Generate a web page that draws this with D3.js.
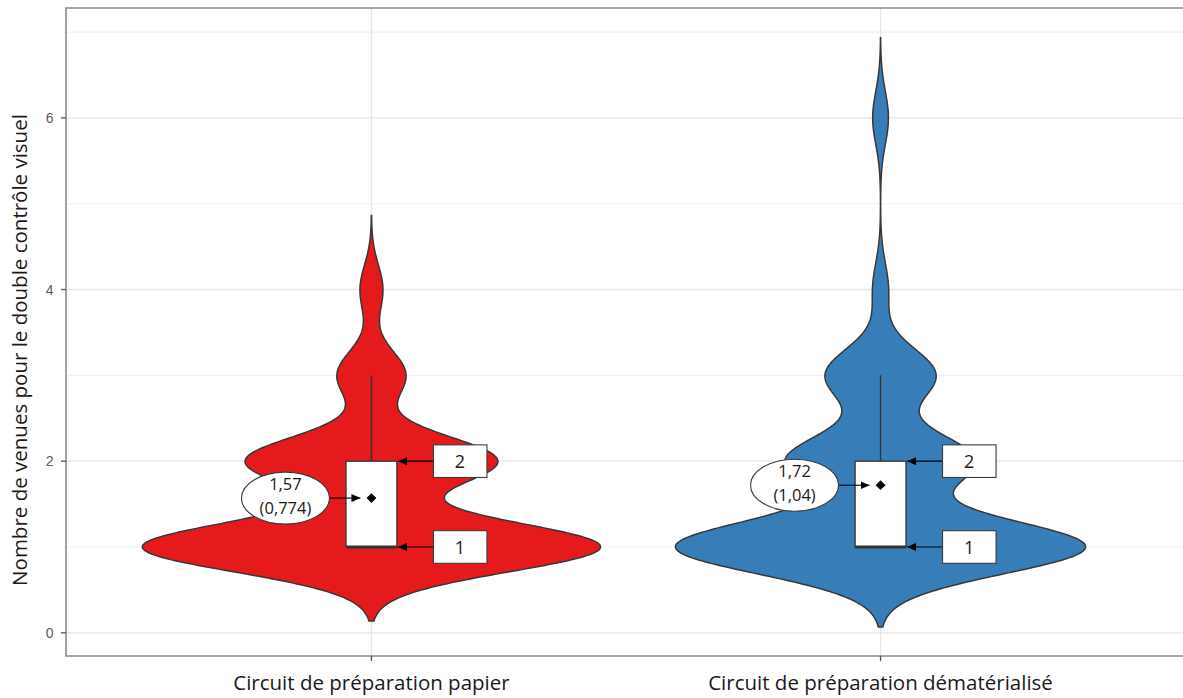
<!DOCTYPE html>
<html>
<head>
<meta charset="utf-8">
<script src="https://cdn.jsdelivr.net/npm/d3@7"></script>
<style>
  html, body { margin: 0; padding: 0; background: #ffffff; }
  svg { display: block; }
</style>
</head>
<body>
<svg id="chart" width="1183" height="698"></svg>
<script>
// Groups compared on the x axis
const categories = ["Circuit de préparation papier", "Circuit de préparation dématérialisé"];
// Possible numbers of visits and how many patients had each, per group
const visitValues = [1, 2, 3, 4, 5, 6];
const paperCounts = [40, 22, 6, 2, 0, 0];
const digitalCounts = [26, 12, 7, 1, 0, 1];
// Box-plot summary per group
const q1Values = [1, 1];
const medianValues = [1, 1];
const q3Values = [2, 2];
const whiskerLow = [1, 1];
const whiskerHigh = [3, 3];
// Mean (sd) per group, as printed in the callouts
const meanValues = [1.57, 1.72];
const meanLabels = ["1,57", "1,72"];
const sdLabels = ["(0,774)", "(1,04)"];
// Y axis ticks
const yTicks = [0, 2, 4, 6];
const yMinorTicks = [1, 3, 5, 7];
const fillColors = ["#E41A1C", "#377EB8"];

const svg = d3.select("#chart");
const panel = { left: 66, top: 8, right: 1186, bottom: 656 };

const x = d3.scalePoint().domain(categories).range([panel.left, panel.right]).padding(0.6);
const step = x.step();
const y = d3.scaleLinear().domain([-0.27, 7.28]).range([panel.bottom, panel.top]);

// Gridlines
const grid = svg.append("g");
grid.selectAll("line.minor").data(yMinorTicks).join("line")
  .attr("x1", panel.left).attr("x2", panel.right)
  .attr("y1", d => y(d)).attr("y2", d => y(d))
  .attr("stroke", "#f2f2f2").attr("stroke-width", 1.2);
grid.selectAll("line.major").data(yTicks).join("line")
  .attr("x1", panel.left).attr("x2", panel.right)
  .attr("y1", d => y(d)).attr("y2", d => y(d))
  .attr("stroke", "#e6e6e6").attr("stroke-width", 1.4);
grid.selectAll("line.vert").data(categories).join("line")
  .attr("x1", d => x(d)).attr("x2", d => x(d))
  .attr("y1", panel.top).attr("y2", panel.bottom)
  .attr("stroke", "#e6e6e6").attr("stroke-width", 1.4);

// Gaussian kernel density, bandwidth by Silverman's rule (nrd0)
function expand(counts) {
  const out = [];
  counts.forEach((c, i) => { for (let k = 0; k < c; k++) out.push(visitValues[i]); });
  return out;
}
function nrd0(sample) {
  const s = d3.deviation(sample);
  const iqr = d3.quantile(sample, 0.75) - d3.quantile(sample, 0.25);
  const lo = Math.min(s, iqr / 1.34);
  return 0.9 * lo * Math.pow(sample.length, -0.2);
}
function kde(counts) {
  const sample = expand(counts);
  const n = sample.length;
  const bw = nrd0(sample);
  const lo = d3.min(sample) - 3 * bw, hi = d3.max(sample) + 3 * bw;
  const pts = d3.range(512).map(i => lo + (hi - lo) * i / 511);
  return pts.map(v => {
    let s = 0;
    counts.forEach((c, i) => {
      const u = (v - visitValues[i]) / bw;
      s += c * Math.exp(-0.5 * u * u);
    });
    return { v, d: s / (n * bw * Math.sqrt(2 * Math.PI)) };
  });
}

const densities = [kde(paperCounts), kde(digitalCounts)];
const maxDensity = d3.max(densities, ds => d3.max(ds, p => p.d));
const widthScale = d3.scaleLinear().domain([0, maxDensity]).range([0, 0.45 * step]);

// Violins
densities.forEach((ds, gi) => {
  const cx = x(categories[gi]);
  const area = d3.area()
    .y(p => y(p.v))
    .x0(p => cx - widthScale(p.d))
    .x1(p => cx + widthScale(p.d));
  svg.append("path").datum(ds)
    .attr("d", area)
    .attr("fill", fillColors[gi])
    .attr("stroke", "#383838")
    .attr("stroke-width", 1.5);
});

// Box plots
const boxHalf = 0.05 * step;
categories.forEach((c, gi) => {
  const cx = x(c);
  const g = svg.append("g");
  g.append("line")
    .attr("x1", cx).attr("x2", cx)
    .attr("y1", y(q3Values[gi])).attr("y2", y(whiskerHigh[gi]))
    .attr("stroke", "#333333").attr("stroke-width", 1.4);
  g.append("line")
    .attr("x1", cx).attr("x2", cx)
    .attr("y1", y(q1Values[gi])).attr("y2", y(whiskerLow[gi]))
    .attr("stroke", "#333333").attr("stroke-width", 1.4);
  g.append("rect")
    .attr("x", cx - boxHalf).attr("width", 2 * boxHalf)
    .attr("y", y(q3Values[gi])).attr("height", y(q1Values[gi]) - y(q3Values[gi]))
    .attr("fill", "#ffffff").attr("stroke", "#3a3a3a").attr("stroke-width", 1.4);
  g.append("line")
    .attr("x1", cx - boxHalf).attr("x2", cx + boxHalf)
    .attr("y1", y(medianValues[gi])).attr("y2", y(medianValues[gi]))
    .attr("stroke", "#333333").attr("stroke-width", 2.8);
  g.append("path")
    .attr("d", d3.symbol(d3.symbolSquare, 48)())
    .attr("transform", `translate(${cx},${y(meanValues[gi])}) rotate(45)`)
    .attr("fill", "#000000");
});

// Arrowhead marker for the callouts
svg.append("defs").append("marker")
  .attr("id", "arrowhead")
  .attr("markerUnits", "userSpaceOnUse")
  .attr("viewBox", "0 0 9 8")
  .attr("refX", 9).attr("refY", 4)
  .attr("markerWidth", 9).attr("markerHeight", 8)
  .attr("orient", "auto")
  .append("path").attr("d", "M0,0 L9,4 L0,8 Z").attr("fill", "#000000");

const calloutFont = "'Open Sans', 'Noto Sans', sans-serif";

categories.forEach((c, gi) => {
  const cx = x(c);
  const g = svg.append("g");
  // Mean (sd) ellipse with arrow to the diamond
  const ey = y(meanValues[gi]);
  const ex = cx - 86;
  g.append("line")
    .attr("x1", ex + 44).attr("x2", cx - 11)
    .attr("y1", ey).attr("y2", ey)
    .attr("stroke", "#000000").attr("stroke-width", 1.1)
    .attr("marker-end", "url(#arrowhead)");
  g.append("ellipse")
    .attr("cx", ex).attr("cy", ey).attr("rx", 44).attr("ry", 26)
    .attr("fill", "#ffffff").attr("stroke", "#3c3c3c").attr("stroke-width", 1.1);
  g.append("text").attr("x", ex).attr("y", ey - 7.8)
    .attr("text-anchor", "middle")
    .attr("font-family", calloutFont).attr("font-size", 16.5).attr("fill", "#1a1a1a")
    .text(meanLabels[gi]);
  g.append("text").attr("x", ex).attr("y", ey + 15.5)
    .attr("text-anchor", "middle")
    .attr("font-family", calloutFont).attr("font-size", 16.5).attr("fill", "#1a1a1a")
    .text(sdLabels[gi]);

  // Labelled boxes pointing to Q3 and the median
  const marks = [
    { v: q3Values[gi], label: "2" },
    { v: medianValues[gi], label: "1" }
  ];
  marks.forEach(m => {
    const my = y(m.v);
    const bx = cx + 62;
    g.append("line")
      .attr("x1", bx).attr("x2", cx + boxHalf + 1)
      .attr("y1", my).attr("y2", my)
      .attr("stroke", "#000000").attr("stroke-width", 1.1)
      .attr("marker-end", "url(#arrowhead)");
    g.append("rect")
      .attr("x", bx).attr("y", my - 16.3).attr("width", 53.5).attr("height", 32.6)
      .attr("fill", "#ffffff").attr("stroke", "#3c3c3c").attr("stroke-width", 1.1);
    g.append("text").attr("x", bx + 26.5).attr("y", my + 6.6)
      .attr("text-anchor", "middle")
      .attr("font-family", calloutFont).attr("font-size", 18).attr("fill", "#1a1a1a")
      .text(m.label);
  });
});

// Panel border (left, top, bottom)
svg.append("path")
  .attr("d", `M${panel.right},${panel.top} H${panel.left} V${panel.bottom} H${panel.right}`)
  .attr("fill", "none").attr("stroke", "#8a8a8a").attr("stroke-width", 1.6);

// Y axis ticks and labels
const yAxis = svg.append("g");
yAxis.selectAll("line").data(yTicks).join("line")
  .attr("x1", panel.left - 5).attr("x2", panel.left)
  .attr("y1", d => y(d)).attr("y2", d => y(d))
  .attr("stroke", "#555555").attr("stroke-width", 1.3);
yAxis.selectAll("text").data(yTicks).join("text")
  .attr("x", panel.left - 12.5).attr("y", d => y(d) + 5)
  .attr("text-anchor", "end")
  .attr("font-family", "'Liberation Sans', Arial, sans-serif").attr("font-size", 14)
  .attr("fill", "#5c5c5c")
  .text(d => d);

// X axis ticks and labels
const xAxis = svg.append("g");
xAxis.selectAll("line").data(categories).join("line")
  .attr("x1", d => x(d)).attr("x2", d => x(d))
  .attr("y1", panel.bottom).attr("y2", panel.bottom + 5)
  .attr("stroke", "#555555").attr("stroke-width", 1.3);
xAxis.selectAll("text").data(categories).join("text")
  .attr("x", d => x(d)).attr("y", 690)
  .attr("text-anchor", "middle")
  .attr("font-family", "'Open Sans', 'Noto Sans', sans-serif").attr("font-size", 20.5)
  .attr("fill", "#1a1a1a")
  .text(d => d);

// Y axis title
svg.append("text")
  .attr("transform", "translate(27,350) rotate(-90)")
  .attr("text-anchor", "middle")
  .attr("font-family", "'Open Sans', 'Noto Sans', sans-serif").attr("font-size", 20.5)
  .attr("fill", "#1a1a1a")
  .text("Nombre de venues pour le double contrôle visuel");
</script>
</body>
</html>
